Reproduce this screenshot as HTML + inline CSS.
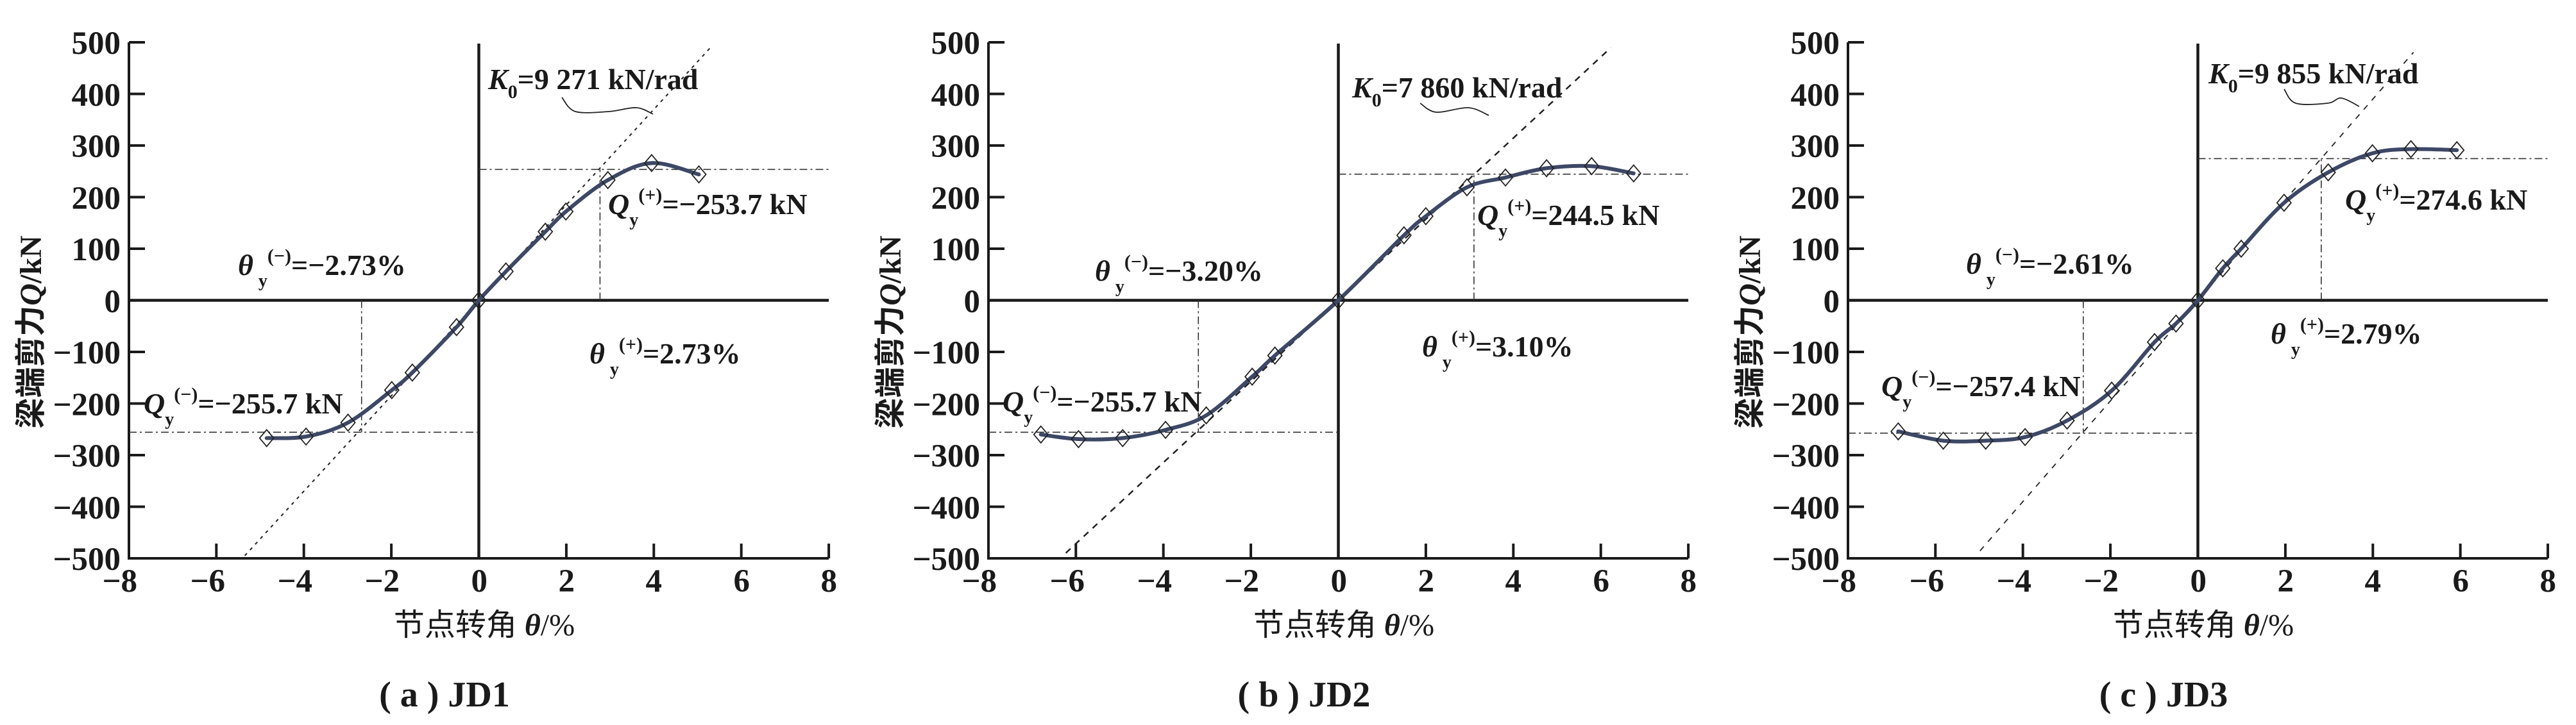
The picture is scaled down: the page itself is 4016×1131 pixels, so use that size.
<!DOCTYPE html>
<html><head><meta charset="utf-8">
<style>
html,body{margin:0;padding:0;background:#fff;}
svg{display:block;}
.t{font-family:"Liberation Serif","Noto Serif CJK SC",serif;font-weight:bold;fill:#1a1a1a;}
.cj{font-family:"Liberation Serif","Noto Sans CJK SC",sans-serif;font-weight:bold;fill:#1a1a1a;}
</style></head>
<body>
<svg id="s" xmlns="http://www.w3.org/2000/svg" width="4016" height="1131" viewBox="0 0 4016 1131">
<rect width="4016" height="1131" fill="#fff"/>
<g id="geo"></g>

<g class="t" font-size="46">
<text x="761" y="139"><tspan font-style="italic">K</tspan><tspan font-size="30" dy="14">0</tspan><tspan dy="-14">=9 271 kN/rad</tspan></text>
<text x="948" y="334"><tspan font-style="italic">Q</tspan><tspan font-size="28" dy="18">y</tspan><tspan font-size="30" dy="-38">(+)</tspan><tspan dy="20">=−253.7 kN</tspan></text>
<text x="371" y="429"><tspan font-style="italic">θ</tspan><tspan font-size="28" dx="8" dy="18">y</tspan><tspan font-size="30" dy="-38">(−)</tspan><tspan dy="20">=−2.73%</tspan></text>
<text x="919" y="567"><tspan font-style="italic">θ</tspan><tspan font-size="28" dx="8" dy="18">y</tspan><tspan font-size="30" dy="-38">(+)</tspan><tspan dy="20">=2.73%</tspan></text>
<text x="224" y="645"><tspan font-style="italic">Q</tspan><tspan font-size="28" dy="18">y</tspan><tspan font-size="30" dy="-38">(−)</tspan><tspan dy="20">=−255.7 kN</tspan></text>
</g>
<g class="t" font-size="46">
<text x="2108" y="152"><tspan font-style="italic">K</tspan><tspan font-size="30" dy="14">0</tspan><tspan dy="-14">=7 860 kN/rad</tspan></text>
<text x="2303" y="351"><tspan font-style="italic">Q</tspan><tspan font-size="28" dy="18">y</tspan><tspan font-size="30" dy="-38">(+)</tspan><tspan dy="20">=244.5 kN</tspan></text>
<text x="1707" y="438"><tspan font-style="italic">θ</tspan><tspan font-size="28" dx="8" dy="18">y</tspan><tspan font-size="30" dy="-38">(−)</tspan><tspan dy="20">=−3.20%</tspan></text>
<text x="2217" y="556"><tspan font-style="italic">θ</tspan><tspan font-size="28" dx="8" dy="18">y</tspan><tspan font-size="30" dy="-38">(+)</tspan><tspan dy="20">=3.10%</tspan></text>
<text x="1563" y="642"><tspan font-style="italic">Q</tspan><tspan font-size="28" dy="18">y</tspan><tspan font-size="30" dy="-38">(−)</tspan><tspan dy="20">=−255.7 kN</tspan></text>
</g>
<g class="t" font-size="46">
<text x="3443" y="130"><tspan font-style="italic">K</tspan><tspan font-size="30" dy="14">0</tspan><tspan dy="-14">=9 855 kN/rad</tspan></text>
<text x="3656" y="327"><tspan font-style="italic">Q</tspan><tspan font-size="28" dy="18">y</tspan><tspan font-size="30" dy="-38">(+)</tspan><tspan dy="20">=274.6 kN</tspan></text>
<text x="3065" y="427"><tspan font-style="italic">θ</tspan><tspan font-size="28" dx="8" dy="18">y</tspan><tspan font-size="30" dy="-38">(−)</tspan><tspan dy="20">=−2.61%</tspan></text>
<text x="3540" y="536"><tspan font-style="italic">θ</tspan><tspan font-size="28" dx="8" dy="18">y</tspan><tspan font-size="30" dy="-38">(+)</tspan><tspan dy="20">=2.79%</tspan></text>
<text x="2933" y="618"><tspan font-style="italic">Q</tspan><tspan font-size="28" dy="18">y</tspan><tspan font-size="30" dy="-38">(−)</tspan><tspan dy="20">=−257.4 kN</tspan></text>
</g>

<g class="t" font-size="51" text-anchor="end">
<g>
<text x="188" y="84">500</text><text x="188" y="165">400</text><text x="188" y="245">300</text><text x="188" y="326">200</text><text x="188" y="406">100</text><text x="188" y="487">0</text><text x="188" y="567">−100</text><text x="188" y="648">−200</text><text x="188" y="728">−300</text><text x="188" y="809">−400</text><text x="188" y="889">−500</text>
<text x="214" y="923">−8</text><text x="351" y="923">−6</text><text x="487" y="923">−4</text><text x="623" y="923">−2</text><text x="760" y="923">0</text><text x="896" y="923">2</text><text x="1032" y="923">4</text><text x="1169" y="923">6</text><text x="1305" y="923">8</text>
</g>
<g transform="translate(1340,0)">
<text x="188" y="84">500</text><text x="188" y="165">400</text><text x="188" y="245">300</text><text x="188" y="326">200</text><text x="188" y="406">100</text><text x="188" y="487">0</text><text x="188" y="567">−100</text><text x="188" y="648">−200</text><text x="188" y="728">−300</text><text x="188" y="809">−400</text><text x="188" y="889">−500</text>
<text x="214" y="923">−8</text><text x="351" y="923">−6</text><text x="487" y="923">−4</text><text x="623" y="923">−2</text><text x="760" y="923">0</text><text x="896" y="923">2</text><text x="1032" y="923">4</text><text x="1169" y="923">6</text><text x="1305" y="923">8</text>
</g>
<g transform="translate(2680,0)">
<text x="188" y="84">500</text><text x="188" y="165">400</text><text x="188" y="245">300</text><text x="188" y="326">200</text><text x="188" y="406">100</text><text x="188" y="487">0</text><text x="188" y="567">−100</text><text x="188" y="648">−200</text><text x="188" y="728">−300</text><text x="188" y="809">−400</text><text x="188" y="889">−500</text>
<text x="214" y="923">−8</text><text x="351" y="923">−6</text><text x="487" y="923">−4</text><text x="623" y="923">−2</text><text x="760" y="923">0</text><text x="896" y="923">2</text><text x="1032" y="923">4</text><text x="1169" y="923">6</text><text x="1305" y="923">8</text>
</g>
</g>

<g class="cj" font-size="48" text-anchor="middle">
<text transform="translate(64,518) rotate(-90)">梁端剪力<tspan font-style="italic">Q</tspan>/kN</text>
<text transform="translate(1404,518) rotate(-90)">梁端剪力<tspan font-style="italic">Q</tspan>/kN</text>
<text transform="translate(2744,518) rotate(-90)">梁端剪力<tspan font-style="italic">Q</tspan>/kN</text>
<text x="755" y="991" font-weight="normal">节点转角 <tspan font-style="italic" font-weight="bold">θ</tspan>/%</text>
<text x="2095" y="991" font-weight="normal">节点转角 <tspan font-style="italic" font-weight="bold">θ</tspan>/%</text>
<text x="3435" y="991" font-weight="normal">节点转角 <tspan font-style="italic" font-weight="bold">θ</tspan>/%</text>
</g>
<g class="t" font-size="56" text-anchor="middle">
<text x="693" y="1102">( a ) JD1</text>
<text x="2033" y="1102">( b ) JD2</text>
<text x="3373" y="1102">( c ) JD3</text>
</g>
</svg>
<script>
(function(){
var NS="http://www.w3.org/2000/svg",g=document.getElementById("geo");
function el(n,a){var e=document.createElementNS(NS,n);for(var k in a)e.setAttribute(k,a[k]);g.appendChild(e);return e;}
var panels=[
 {ox:201,k:92.5,kr:[-5.35,5.34],qp:253.7,qn:-255.7,tp:2.77,tn:-2.68,dash:"5,7",kw:2,
  lead:[[876,152],[897,174],[949,174],[992,168],[1018,178]],
  d:[[-4.85,-267],[-3.95,-264],[-2.99,-237],[-1.99,-174],[-1.52,-140],[-0.51,-52],[0,0],[0.62,56],[1.52,133],[1.99,172],[2.95,233],[3.95,266],[5.03,244]]},
 {ox:1541,k:78.6,kr:[-6.23,6.23],qp:244.5,qn:-255.7,tp:3.10,tn:-3.20,dash:"10,9",kw:2.5,
  lead:[[2214,161],[2239,175],[2289,168],[2321,180]],
  d:[[-6.8,-260],[-5.94,-269],[-4.93,-267],[-3.95,-251],[-3.02,-223],[-1.97,-148],[-1.45,-107],[0,0],[1.5,126],[2.0,163],[2.94,219],[3.82,238],[4.76,256],[5.79,260],[6.75,246]]},
 {ox:2881,k:97.5,kr:[-4.98,4.93],qp:274.6,qn:-257.4,tp:2.82,tn:-2.62,dash:"9,10",kw:1.8,
  lead:[[3561,139],[3579,161],[3629,161],[3650,153],[3678,166]],
  d:[[-6.85,-254],[-5.82,-272],[-4.85,-272],[-3.95,-265],[-2.99,-233],[-1.97,-175],[-0.99,-81],[-0.5,-45],[0,0],[0.57,62],[0.99,100],[1.97,189],[2.98,248],[3.99,285],[4.87,293],[5.92,291]]}
];
function cr(P){
 var c="M"+P[0][0]+" "+P[0][1];
 for(var i=0;i<P.length-1;i++){
  var p0=P[Math.max(0,i-1)],p1=P[i],p2=P[i+1],p3=P[Math.min(P.length-1,i+2)];
  var c1x=p1[0]+(p2[0]-p0[0])/6,c1y=p1[1]+(p2[1]-p0[1])/6,c2x=p2[0]-(p3[0]-p1[0])/6,c2y=p2[1]-(p3[1]-p1[1])/6;
  c+=" C"+c1x.toFixed(1)+" "+c1y.toFixed(1)+" "+c2x.toFixed(1)+" "+c2y.toFixed(1)+" "+p2[0].toFixed(1)+" "+p2[1].toFixed(1);
 }
 return c;
}
panels.forEach(function(p){
 var X=function(t){return p.ox+545.5+t*68.2;},Y=function(q){return 468.5-0.805*q;};
 var L=p.ox,R=X(8),T=Y(500),B=Y(-500);
 el("path",{d:"M"+L+" "+(T)+"V"+B+"H"+R,fill:"none",stroke:"#1a1a1a","stroke-width":4});
 for(var v=-400;v<=500;v+=100) el("line",{x1:L,x2:L+25,y1:Y(v),y2:Y(v),stroke:"#1a1a1a","stroke-width":4});
 for(var t=-6;t<=8;t+=2) el("line",{x1:X(t),x2:X(t),y1:B,y2:B-23,stroke:"#1a1a1a","stroke-width":4});
 el("line",{x1:L,x2:R,y1:Y(0),y2:Y(0),stroke:"#1a1a1a","stroke-width":4.5});
 el("line",{x1:X(0),x2:X(0),y1:68,y2:B,stroke:"#1a1a1a","stroke-width":4.5});
 var dd={stroke:"#333","stroke-width":1.6,"stroke-dasharray":"12,5,3,5",fill:"none"};
 el("line",Object.assign({x1:X(0),x2:R,y1:Y(p.qp),y2:Y(p.qp)},dd));
 el("line",Object.assign({x1:L,x2:X(0),y1:Y(p.qn),y2:Y(p.qn)},dd));
 el("line",Object.assign({x1:X(p.tp),x2:X(p.tp),y1:Y(0),y2:Y(p.qp)},dd));
 el("line",Object.assign({x1:X(p.tn),x2:X(p.tn),y1:Y(0),y2:Y(p.qn)},dd));
 el("line",{x1:X(p.kr[0]),y1:Y(p.kr[0]*p.k),x2:X(p.kr[1]),y2:Y(p.kr[1]*p.k),stroke:"#222","stroke-width":p.kw,"stroke-dasharray":p.dash});
 el("path",{d:cr(p.lead),fill:"none",stroke:"#222","stroke-width":1.8});
 var P=p.d.map(function(a){return [X(a[0]),Y(a[1])];});
 el("path",{d:cr(P),fill:"none",stroke:"#3d4866","stroke-width":6,"stroke-linecap":"round"});
 P.forEach(function(q){
  el("path",{d:"M"+q[0]+" "+(q[1]-13)+"l11 13l-11 13l-11 -13z",fill:"none",stroke:"#222","stroke-width":1.8});
 });
});
})();
</script>
</body></html>
